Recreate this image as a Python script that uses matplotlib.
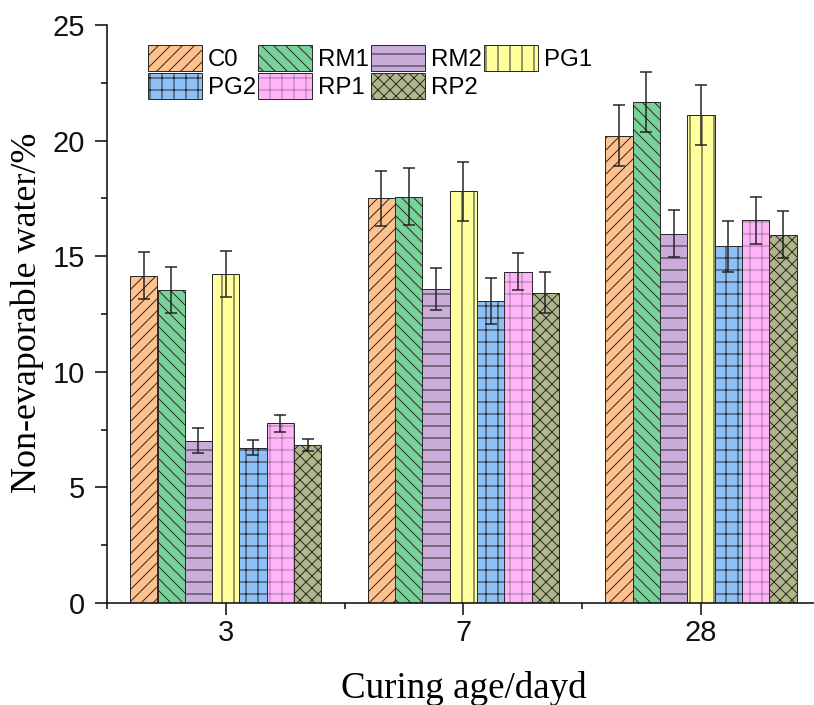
import numpy as np
import matplotlib
matplotlib.use("Agg")
import matplotlib.pyplot as plt
from matplotlib.ticker import MultipleLocator, FixedLocator
from matplotlib.legend_handler import HandlerTuple

# ---- data ----
ages = ["3", "7", "28"]
series = ["C0", "RM1", "RM2", "PG1", "PG2", "RP1", "RP2"]
C0 = [14.15, 17.50, 20.20]
RM1 = [13.53, 17.58, 21.67]
RM2 = [7.02, 13.59, 15.98]
PG1 = [14.22, 17.80, 21.10]
PG2 = [6.72, 13.07, 15.42]
RP1 = [7.78, 14.33, 16.55]
RP2 = [6.83, 13.42, 15.93]
C0_err = [1.02, 1.20, 1.32]
RM1_err = [1.00, 1.25, 1.28]
RM2_err = [0.54, 0.90, 1.00]
PG1_err = [1.00, 1.26, 1.30]
PG2_err = [0.33, 1.00, 1.10]
RP1_err = [0.37, 0.80, 1.03]
RP2_err = [0.25, 0.88, 1.02]

values = [C0, RM1, RM2, PG1, PG2, RP1, RP2]
errors = [C0_err, RM1_err, RM2_err, PG1_err, PG2_err, RP1_err, RP2_err]
colors = ["#FDC28E", "#78D39A", "#C9ACDA", "#FFFF9E", "#8DC0F6", "#FFB4F8", "#B0B68A"]
hatches = ["//", "\\\\", "-", "|", "+", "+", "xx"]

plt.rcParams["hatch.linewidth"] = 1.0
DPI = 72
fig = plt.figure(figsize=(814 / DPI, 705 / DPI), dpi=DPI)
ax = fig.add_axes([107 / 814, 1 - 603 / 705, 1 - 107 / 814, (603 - 25) / 705])

x = np.arange(len(ages))
w = 0.115
edge = "#2a2a2a"
handles = []
for i, (name, vals, errs, col, h) in enumerate(zip(series, values, errors, colors, hatches)):
    pos = x + (i - 3) * w
    if name == "RP1":
        b1 = ax.bar(pos, vals, w, color=col, edgecolor="#a67ca6", linewidth=0, hatch=h, zorder=2)
        b2 = ax.bar(pos, vals, w, color="none", edgecolor=edge, linewidth=1.0, zorder=2.1)
        handles.append((b1, b2))
    else:
        b = ax.bar(pos, vals, w, color=col, edgecolor=edge, linewidth=1.0, hatch=h, zorder=2)
        handles.append(b)
    ax.errorbar(pos, vals, yerr=errs, fmt="none", ecolor="#222222", elinewidth=1.5,
                capsize=6, capthick=1.5, zorder=3)

ax.set_xlim(-0.5, 2.475)
ax.set_ylim(0, 25)
ax.set_xticks(x)
ax.set_xticklabels(ages)
ax.xaxis.set_minor_locator(FixedLocator([-0.5, 0.5, 1.5, 2.5]))
ax.yaxis.set_major_locator(MultipleLocator(5))
ax.yaxis.set_minor_locator(MultipleLocator(2.5))

for s in ["top", "right"]:
    ax.spines[s].set_visible(False)
for s in ["left", "bottom"]:
    ax.spines[s].set_linewidth(1.6)
    ax.spines[s].set_color("#111111")

ax.tick_params(axis="both", which="major", direction="out", length=12, width=1.6,
               labelsize=29, colors="#111111")
ax.tick_params(axis="y", which="major", pad=10)
ax.tick_params(axis="x", which="major", pad=4)
ax.tick_params(axis="both", which="minor", direction="out", length=6, width=1.6, colors="#111111")
for lab in ax.get_xticklabels() + ax.get_yticklabels():
    lab.set_fontfamily("Liberation Sans")

ax.set_ylabel("Non-evaporable water/%", fontfamily="Liberation Serif", fontsize=36)
ax.set_xlabel("Curing age/dayd", fontfamily="Liberation Serif", fontsize=37)
ax.yaxis.set_label_coords(-0.089, 0.502)
ax.xaxis.set_label_coords(0.505, -0.118)

# legend: row-wise order in 4 columns (matplotlib fills column-wise)
order = [0, 4, 1, 5, 2, 6, 3]
fs = 24
leg = ax.legend([handles[k] for k in order], [series[k] for k in order], ncol=4,
                loc="upper left",
                bbox_to_anchor=((148 - 107) / 707, (603 - 45) / 578),
                frameon=False, borderpad=0, borderaxespad=0,
                handlelength=54 / fs, handleheight=1.29, handletextpad=6 / fs,
                columnspacing=2 / fs, labelspacing=0.1,
                prop={"family": "Liberation Sans", "size": fs},
                handler_map={tuple: HandlerTuple(ndivide=1)})

fig.savefig("out.png", dpi=DPI)
